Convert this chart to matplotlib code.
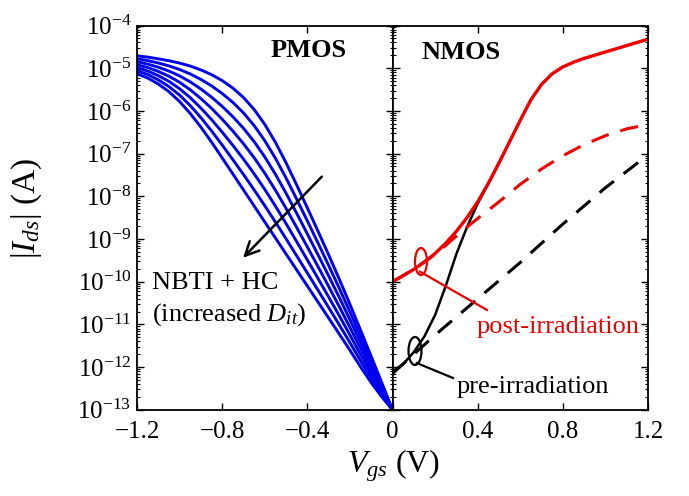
import numpy as np
import matplotlib
matplotlib.use("Agg")
import matplotlib.pyplot as plt
from matplotlib.patches import Ellipse
from matplotlib.ticker import LogLocator, NullFormatter

plt.rcParams['font.family'] = ['Liberation Serif', 'DejaVu Serif']
plt.rcParams['mathtext.fontset'] = 'custom'
plt.rcParams['mathtext.rm'] = 'Liberation Serif'
plt.rcParams['mathtext.it'] = 'Liberation Serif:italic'
plt.rcParams['mathtext.bf'] = 'Liberation Serif:bold'

# ---------------- data (log10 of |Ids| in A) ----------------
pmos_vgs = [-1.2, -1.15, -1.1, -1.05, -1.0, -0.95, -0.9, -0.85, -0.8, -0.75, -0.7, -0.65, -0.6,
            -0.55, -0.5, -0.45, -0.4, -0.35, -0.3, -0.25, -0.2, -0.15, -0.1, -0.05, 0.0]
pmos_c1 = [-5.13, -5.23, -5.37, -5.55, -5.78, -6.06, -6.38, -6.73, -7.10, -7.475, -7.85, -8.225, -8.60,
           -8.975, -9.35, -9.725, -10.10, -10.475, -10.85, -11.225, -11.605, -11.995, -12.365, -12.70, -13.0]
pmos_c2 = [-5.06, -5.148, -5.272, -5.429, -5.63, -5.875, -6.157, -6.467, -6.798, -7.14, -7.489, -7.848, -8.219,
           -8.602, -8.994, -9.393, -9.795, -10.198, -10.603, -11.011, -11.426, -11.852, -12.263, -12.645, -13.0]
pmos_c3 = [-4.99, -5.067, -5.173, -5.308, -5.48, -5.69, -5.933, -6.203, -6.497, -6.805, -7.128, -7.472, -7.838,
           -8.228, -8.638, -9.062, -9.49, -9.922, -10.357, -10.797, -11.247, -11.708, -12.16, -12.59, -13.0]
pmos_c4 = [-4.92, -4.985, -5.075, -5.188, -5.33, -5.505, -5.71, -5.94, -6.195, -6.47, -6.768, -7.095, -7.458,
           -7.855, -8.283, -8.73, -9.185, -9.645, -10.11, -10.583, -11.068, -11.565, -12.058, -12.535, -13.0]
pmos_c5 = [-4.85, -4.903, -4.977, -5.067, -5.18, -5.32, -5.487, -5.677, -5.893, -6.135, -6.407, -6.718, -7.077,
           -7.482, -7.927, -8.398, -8.88, -9.368, -9.863, -10.368, -10.888, -11.422, -11.955, -12.48, -13.0]
pmos_c6 = [-4.78, -4.822, -4.878, -4.946, -5.03, -5.135, -5.263, -5.413, -5.592, -5.80, -6.046, -6.342, -6.696,
           -7.108, -7.571, -8.067, -8.575, -9.092, -9.617, -10.154, -10.709, -11.278, -11.853, -12.425, -13.0]
pmos_c7 = [-4.71, -4.74, -4.78, -4.825, -4.88, -4.95, -5.04, -5.15, -5.29, -5.465, -5.685, -5.965, -6.315,
           -6.735, -7.215, -7.735, -8.27, -8.815, -9.37, -9.94, -10.53, -11.135, -11.75, -12.37, -13.0]
pmos_curves = [pmos_c1, pmos_c2, pmos_c3, pmos_c4, pmos_c5, pmos_c6, pmos_c7]

nmos_vgs_post = [0.0, 0.05, 0.1, 0.15, 0.2, 0.25, 0.3, 0.35, 0.4, 0.45, 0.5, 0.55, 0.6, 0.65, 0.7,
                 0.75, 0.8, 0.85, 0.9, 1.0, 1.1, 1.2]
nmos_post_solid = [-10.0, -9.86, -9.71, -9.54, -9.34, -9.10, -8.82, -8.50, -8.13, -7.70, -7.22, -6.72, -6.22,
                   -5.74, -5.38, -5.13, -4.97, -4.86, -4.77, -4.62, -4.47, -4.32]
nmos_vgs_post_d = [0.0, 0.1, 0.2, 0.25, 0.3, 0.35, 0.4, 0.5, 0.6, 0.7, 0.8, 0.9, 1.0, 1.1, 1.2]
nmos_post_dashed = [-10.0, -9.71, -9.36, -9.15, -8.93, -8.72, -8.52, -8.13, -7.72, -7.36, -7.05, -6.79,
                    -6.58, -6.42, -6.32]

nmos_vgs_pre = [0.0, 0.05, 0.1, 0.15, 0.2, 0.25, 0.3, 0.35, 0.4, 0.45, 0.5]
nmos_pre_solid = [-12.10, -11.93, -11.65, -11.28, -10.78, -10.10, -9.35, -8.72, -8.17, -7.70, -7.22]
nmos_vgs_pre_d = [0.0, 0.2, 0.4, 0.6, 0.8, 1.0, 1.2]
nmos_pre_dashed = [-12.15, -11.25, -10.40, -9.55, -8.65, -7.80, -7.03]

xticks_left = [-1.2, -0.8, -0.4, 0.0]
xtick_labels_left = ['\u22121.2', '\u22120.8', '\u22120.4', '']
xticks_right = [0.0, 0.4, 0.8, 1.2]
xtick_labels_right = ['0', '0.4', '0.8', '1.2']

# ---------------- figure ----------------
W, H = 689, 496
fig = plt.figure(figsize=(W / 100, H / 100), dpi=100)
x0, xm, x1 = 137, 392.5, 648
ytop, ybot = 25.5, 409.8
ax1 = fig.add_axes([x0 / W, 1 - ybot / H, (xm - x0) / W, (ybot - ytop) / H])
ax2 = fig.add_axes([xm / W, 1 - ybot / H, (x1 - xm) / W, (ybot - ytop) / H], sharey=ax1)

blue = '#0000EE'
red = '#EE0000'
for c in pmos_curves:
    ax1.plot(pmos_vgs, 10.0 ** np.array(c), color=blue, lw=2.1)

ax2.plot(nmos_vgs_pre_d, 10.0 ** np.array(nmos_pre_dashed), color='black', lw=2.2, dashes=(6, 4))
ax2.plot(nmos_vgs_pre, 10.0 ** np.array(nmos_pre_solid), color='black', lw=1.8)
ax2.plot(nmos_vgs_post_d, 10.0 ** np.array(nmos_post_dashed), color=red, lw=2.2, dashes=(6, 4))
ax2.plot(nmos_vgs_post, 10.0 ** np.array(nmos_post_solid), color=red, lw=2.4)

for ax in (ax1, ax2):
    ax.set_yscale('log')
    ax.set_ylim(1e-13, 1e-4)
    ax.yaxis.set_major_locator(LogLocator(base=10, numticks=20))
    ax.yaxis.set_minor_locator(LogLocator(base=10, subs=np.arange(2, 10), numticks=200))
    ax.yaxis.set_minor_formatter(NullFormatter())
    ax.tick_params(which='both', direction='in', top=True, right=True, labelsize=18)
    ax.tick_params(which='major', length=5, width=1.0)
    ax.tick_params(which='minor', length=2.5, width=0.8)
    ax.tick_params(axis='x', pad=8)
    for s in ax.spines.values():
        s.set_linewidth(1.3)

ax1.set_xlim(-1.2, 0)
ax2.set_xlim(0, 1.2)
ax1.set_xticks(xticks_left)
ax1.set_xticklabels(xtick_labels_left)
ax2.set_xticks(xticks_right)
ax2.set_xticklabels(xtick_labels_right)
ax2.tick_params(axis='y', labelleft=False)
ax1.tick_params(axis='y', pad=4)

ax1.set_ylabel(r'$|I_{ds}|$ (A)', fontsize=24)
ax1.yaxis.set_label_coords(-0.365, 0.525)
fig.text(394 / W, 1 - 466 / H, r'$V_{gs}$ (V)', fontsize=23, ha='center', va='center')

ax1.text(0.822, 0.936, 'PMOS', transform=ax1.transAxes, fontsize=19, fontweight='bold', ha='right', va='center')
ax2.text(0.115, 0.931, 'NMOS', transform=ax2.transAxes, fontsize=19, fontweight='bold', ha='left', va='center')

ax1.annotate('', xy=(-0.702, 10 ** -9.44), xytext=(-0.332, 10 ** -7.54),
             arrowprops=dict(arrowstyle='->,head_length=0.45,head_width=0.22', color='black', lw=1.8,
                             mutation_scale=22, shrinkA=0, shrinkB=0))
ax1.text(-1.129, 10 ** -10.03, 'NBTI + HC', fontsize=19, ha='left', va='center')
ax1.text(-1.129, 10 ** -10.78, r'(increased $D_{it}$)', fontsize=19, ha='left', va='center')


def ax2c(px, py):
    return ((px - xm) / (x1 - xm), (ybot - py) / (ybot - ytop))


cx, cy = ax2c(421, 261.5)
ax2.add_patch(Ellipse((cx, cy), 12 / (x1 - xm), 27 / (ybot - ytop), transform=ax2.transAxes,
                      fill=False, edgecolor=red, lw=1.6, zorder=5))
(a, b), (c, d) = ax2c(420, 271.7), ax2c(487, 310)
ax2.plot([a, c], [b, d], color=red, lw=1.6, transform=ax2.transAxes)
cx, cy = ax2c(415, 351)
ax2.add_patch(Ellipse((cx, cy), 13 / (x1 - xm), 28 / (ybot - ytop), transform=ax2.transAxes,
                      fill=False, edgecolor='black', lw=1.6, zorder=5))
(a, b), (c, d) = ax2c(416.7, 363), ax2c(453, 378)
ax2.plot([a, c], [b, d], color='black', lw=1.6, transform=ax2.transAxes)

ax2.text(0.397, 10 ** -11.06, 'post-irradiation', color=red, fontsize=19, ha='left', va='center')
ax2.text(0.303, 10 ** -12.47, 'pre-irradiation', color='black', fontsize=19, ha='left', va='center')

fig.savefig('out.png', dpi=100)
